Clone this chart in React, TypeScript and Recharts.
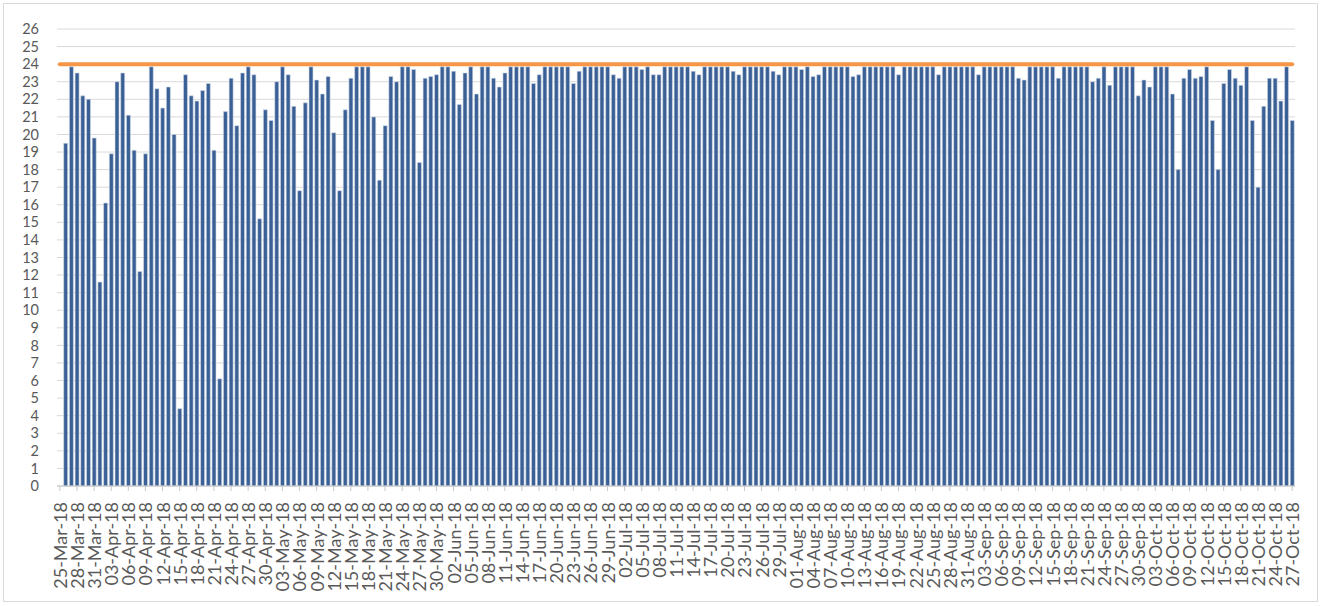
import React from 'react';
import { ComposedChart, Bar, Line, XAxis, YAxis, CartesianGrid } from 'recharts';

// Full-day value (bars reaching the target line)
const F = 23.85;
const TARGET = 24;

const YEAR = '18';
const MONTH_NAMES = ['Mar', 'Apr', 'May', 'Jun', 'Jul', 'Aug', 'Sep', 'Oct'];
const MONTH_DAYS = [31, 30, 31, 30, 31, 31, 30, 31];
const FIRST_DAY = 25; // 25-Mar-18 (no bar)
const LAST_DAY = 27; // 27-Oct-18

const Y_TICKS = [0, 1, 2, 3, 4, 5, 6, 7, 8, 9, 10, 11, 12, 13, 14, 15, 16, 17, 18, 19, 20, 21, 22, 23, 24, 25, 26];

// 25-Mar has no value
const marHours = [null, 19.5, F, 23.5, 22.2, 22.0, 19.8];
const aprHours = [11.6, 16.1, 18.9, 23.0, 23.5, 21.1, 19.1, 12.2, 18.9, F, 22.6, 21.5, 22.7, 20.0, 4.4, 23.4, 22.2, 21.9, 22.5, 22.9, 19.1, 6.1, 21.3, 23.2, 20.5, 23.5, F, 23.4, 15.2, 21.4];
const mayHours = [20.8, 23.0, F, 23.4, 21.6, 16.8, 21.8, F, 23.1, 22.3, 23.3, 20.1, 16.8, 21.4, 23.2, F, F, F, 21.0, 17.4, 20.5, 23.3, 23.0, F, F, 23.7, 18.4, 23.2, 23.3, 23.4, F];
const junHours = [F, 23.6, 21.7, 23.5, F, 22.3, F, F, 23.2, 22.7, 23.5, F, F, F, F, 22.9, 23.4, F, F, F, F, F, 22.9, 23.6, F, F, F, F, F, 23.4];
const julHours = [23.2, F, F, F, 23.7, F, 23.4, 23.4, F, F, F, F, F, 23.6, 23.4, F, F, F, F, F, 23.6, 23.4, F, F, F, F, F, 23.6, 23.4, F, F];
const augHours = [F, 23.7, F, 23.3, 23.4, F, F, F, F, F, 23.3, 23.4, F, F, F, F, F, F, 23.4, F, F, F, F, F, F, 23.4, F, F, F, F, F];
const sepHours = [F, 23.4, F, F, F, F, F, F, 23.2, 23.1, F, F, F, F, F, 23.2, F, F, F, F, F, 23.0, 23.2, F, 22.8, F, F, F, F, 22.2];
const octHours = [23.1, 22.7, F, F, F, 22.3, 18.0, 23.2, 23.7, 23.2, 23.3, F, 20.8, 18.0, 22.9, 23.7, 23.2, 22.8, F, 20.8, 17.0, 21.6, 23.2, 23.2, 21.9, F, 20.8];

const HOURS = [...marHours, ...aprHours, ...mayHours, ...junHours, ...julHours, ...augHours, ...sepHours, ...octHours];

const DATES: string[] = [];
MONTH_NAMES.forEach((m, mi) => {
  const from = mi === 0 ? FIRST_DAY : 1;
  const to = mi === MONTH_NAMES.length - 1 ? LAST_DAY : MONTH_DAYS[mi];
  for (let d = from; d <= to; d++) {
    DATES.push(`${d < 10 ? '0' + d : d}-${m}-${YEAR}`);
  }
});

const data = DATES.map((date, i) => ({ date, hours: HOURS[i], target: TARGET }));

const FONT = 'Lato, "Open Sans", sans-serif';
const TEXT = '#595959';

const DateTick = (props: any) => {
  const { x, y, payload } = props;
  return (
    <text
      x={0}
      y={0}
      transform={`translate(${x},${y}) rotate(-90)`}
      textAnchor="end"
      dominantBaseline="central"
      fill={TEXT}
      fontSize={18}
      fontFamily={FONT}
    >
      {payload.value}
    </text>
  );
};

export default function App() {
  return (
    <div style={{ position: 'absolute', left: 0, top: 0, width: 1322, height: 606, background: '#fff' }}>
      <div
        style={{
          position: 'absolute',
          left: 3,
          top: 3,
          width: 1315,
          height: 599,
          border: '1px solid #D9D9D9',
          boxSizing: 'border-box',
        }}
      />
      <div style={{ position: 'absolute', left: 0, top: 0 }}>
        <ComposedChart
          width={1322}
          height={606}
          data={data}
          margin={{ top: 29, right: 27, left: 0, bottom: 0 }}
          barCategoryGap="17%"
        >
          <CartesianGrid vertical={false} stroke="#D9D9D9" strokeWidth={1} />
          <XAxis
            dataKey="date"
            interval={2}
            height={120}
            tick={<DateTick />}
            tickSize={5}
            tickMargin={11}
            axisLine={{ stroke: '#C8C8C8' }}
            tickLine={{ stroke: '#C8C8C8' }}
          />
          <YAxis
            domain={[0, 26]}
            ticks={Y_TICKS}
            interval={0}
            width={57}
            axisLine={false}
            tickLine={false}
            tickSize={0}
            tickMargin={18}
            tick={{ fill: TEXT, fontSize: 14.5, fontFamily: FONT }}
          />
          <Bar dataKey="hours" fill="#3A6096" stroke="#D5DDEA" strokeWidth={0.6} isAnimationActive={false} />
          <Line
            dataKey="target"
            stroke="#F79646"
            strokeWidth={4}
            strokeLinecap="round"
            dot={false}
            activeDot={false}
            isAnimationActive={false}
          />
        </ComposedChart>
      </div>
    </div>
  );
}
